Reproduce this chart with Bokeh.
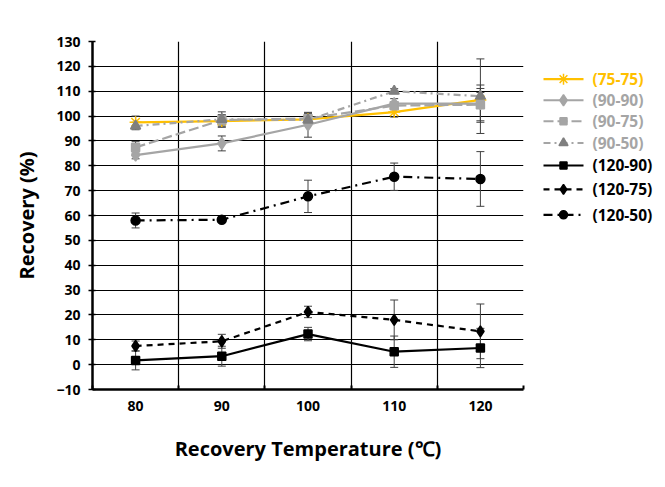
from bokeh.plotting import figure
from bokeh.models import Range1d, FixedTicker, ColumnDataSource, Whisker, TeeHead
from bokeh.layouts import row
from bokeh.core.properties import value
from bokeh.embed import file_html
from bokeh.resources import INLINE

temps = [80, 90, 100, 110, 120]
y_ticks = list(range(-10, 131, 10))
x_bounds = [75, 85, 95, 105, 115, 125]

labels = ["(75-75)", "(90-90)", "(90-75)", "(90-50)", "(120-90)", "(120-75)", "(120-50)"]
s75_75 = [97.5, 98.0, 98.7, 101.6, 106.5]
e75_75 = [2.5, 2.5, 2.5, 2.0, 3.0]
s90_90 = [84.3, 89.0, 96.5, 105.0, 105.0]
e90_90 = [1.5, 3.0, 5.0, 2.0, 7.5]
s90_75 = [87.4, 98.4, 99.0, 104.2, 104.6]
e90_75 = [2.3, 2.0, 2.0, 1.5, 6.5]
s90_50 = [96.0, 98.7, 98.4, 110.0, 108.0]
e90_50 = [1.5, 3.0, 2.0, 1.0, 15.0]
s120_90 = [1.7, 3.4, 12.3, 5.2, 6.7]
e120_90 = [3.8, 4.0, 2.7, 6.3, 7.9]
s120_75 = [7.5, 9.4, 21.2, 18.0, 13.4]
e120_75 = [2.0, 2.8, 2.3, 8.0, 11.0]
s120_50 = [58.0, 58.3, 67.7, 75.6, 74.7]
e120_50 = [3.0, 1.0, 6.5, 5.5, 11.0]

values = [s75_75, s90_90, s90_75, s90_50, s120_90, s120_75, s120_50]
errors = [e75_75, e90_90, e90_75, e90_50, e120_90, e120_75, e120_50]

YEL = "#FFC000"
GRY = "#A5A5A5"
DGRY = "#7F7F7F"
BLK = "#000000"
styles = [
    dict(color=YEL, dash="solid", marker="asterisk", mcolor=YEL, msize=12, text=YEL),
    dict(color=GRY, dash="solid", marker="diamond", mcolor=GRY, msize=12, text=GRY),
    dict(color=GRY, dash="10 4", marker="square", mcolor=GRY, msize=8, text=GRY),
    dict(color=GRY, dash="7 4 2 4", marker="triangle", mcolor=DGRY, msize=10, text=GRY),
    dict(color=BLK, dash="solid", marker="square", mcolor=BLK, msize=8, text=BLK),
    dict(color=BLK, dash="6 5", marker="diamond", mcolor=BLK, msize=11, text=BLK),
    dict(color=BLK, dash="9 5 2 5", marker="circle", mcolor=BLK, msize=9, text=BLK),
]

FONT = "Open Sans"

p = figure(width=525, height=480, x_range=Range1d(75, 125), y_range=Range1d(-10, 130),
           output_backend="svg", toolbar_location=None,
           min_border_left=92, min_border_top=41, min_border_bottom=91, min_border_right=2)
p.outline_line_color = None
p.background_fill_color = "white"

p.xgrid.ticker = FixedTicker(ticks=x_bounds)
p.ygrid.ticker = FixedTicker(ticks=y_ticks)
for g in (p.xgrid, p.ygrid):
    g.grid_line_color = "black"
    g.grid_line_width = 1.2
    g.grid_line_alpha = 1.0

p.xaxis.ticker = FixedTicker(ticks=temps, minor_ticks=x_bounds)
p.xaxis.major_tick_out = 0
p.xaxis.major_tick_in = 0
p.xaxis.minor_tick_out = 0
p.xaxis.minor_tick_in = 4
p.xaxis.minor_tick_line_color = "black"
p.xaxis.minor_tick_line_width = 2
p.yaxis.ticker = FixedTicker(ticks=y_ticks, minor_ticks=[])
p.yaxis.major_tick_out = 4
p.yaxis.major_tick_in = 3
for ax in (p.xaxis, p.yaxis):
    ax.axis_line_color = "black"
    ax.axis_line_width = 2.5
    ax.major_tick_line_color = "black"
    ax.major_tick_line_width = 1.5
    ax.major_label_text_font = FONT
    ax.major_label_text_font_style = "bold"
    ax.major_label_text_font_size = "14px"
    ax.major_label_text_color = "black"
    ax.axis_label_text_font = FONT
    ax.axis_label_text_font_style = "bold"
    ax.axis_label_text_font_size = "20px"
    ax.axis_label_text_color = "black"
p.xaxis.axis_label = "Recovery Temperature (\u2103)"
p.yaxis.axis_label = "Recovery (%)"
p.xaxis.major_label_standoff = 11
p.xaxis.axis_label_standoff = 21
p.yaxis.major_label_standoff = 8
p.yaxis.axis_label_standoff = 13

for vals, errs, st in zip(values, errors, styles):
    src = ColumnDataSource(dict(x=temps, y=vals,
                                upper=[v + e for v, e in zip(vals, errs)],
                                lower=[v - e for v, e in zip(vals, errs)]))
    w = Whisker(base="x", upper="upper", lower="lower", source=src,
                line_color="#404040", line_width=1,
                upper_head=TeeHead(size=8, line_color="#404040", line_width=1),
                lower_head=TeeHead(size=8, line_color="#404040", line_width=1))
    p.add_layout(w)
    p.line("x", "y", source=src, line_color=st["color"], line_width=2.2, line_dash=st["dash"])
    p.scatter("x", "y", source=src, marker=st["marker"], size=st["msize"],
              fill_color=st["mcolor"], line_color=st["mcolor"], line_width=1.5)

# legend panel
leg = figure(width=132, height=480, x_range=Range1d(0, 132), y_range=Range1d(480, 0),
             output_backend="svg", toolbar_location=None, min_border=0)
leg.axis.visible = False
leg.grid.visible = False
leg.outline_line_color = None
leg_y = [52, 81, 110, 140, 171, 204, 239]
for lab, yy, st in zip(labels, leg_y, styles):
    leg.line([18, 58], [yy, yy], line_color=st["color"], line_width=2.2, line_dash=st["dash"])
    leg.scatter([38], [yy], marker=st["marker"], size=st["msize"] - 1,
                fill_color=st["mcolor"], line_color=st["mcolor"], line_width=1.5)
    leg.text([67], [yy], text=[lab], text_baseline="middle", text_align="left",
             text_font=value(FONT), text_font_style="bold", text_font_size="15.5px",
             text_color=st["text"])

layout = row(p, leg)
open("out.html", "w").write(file_html(layout, INLINE))
